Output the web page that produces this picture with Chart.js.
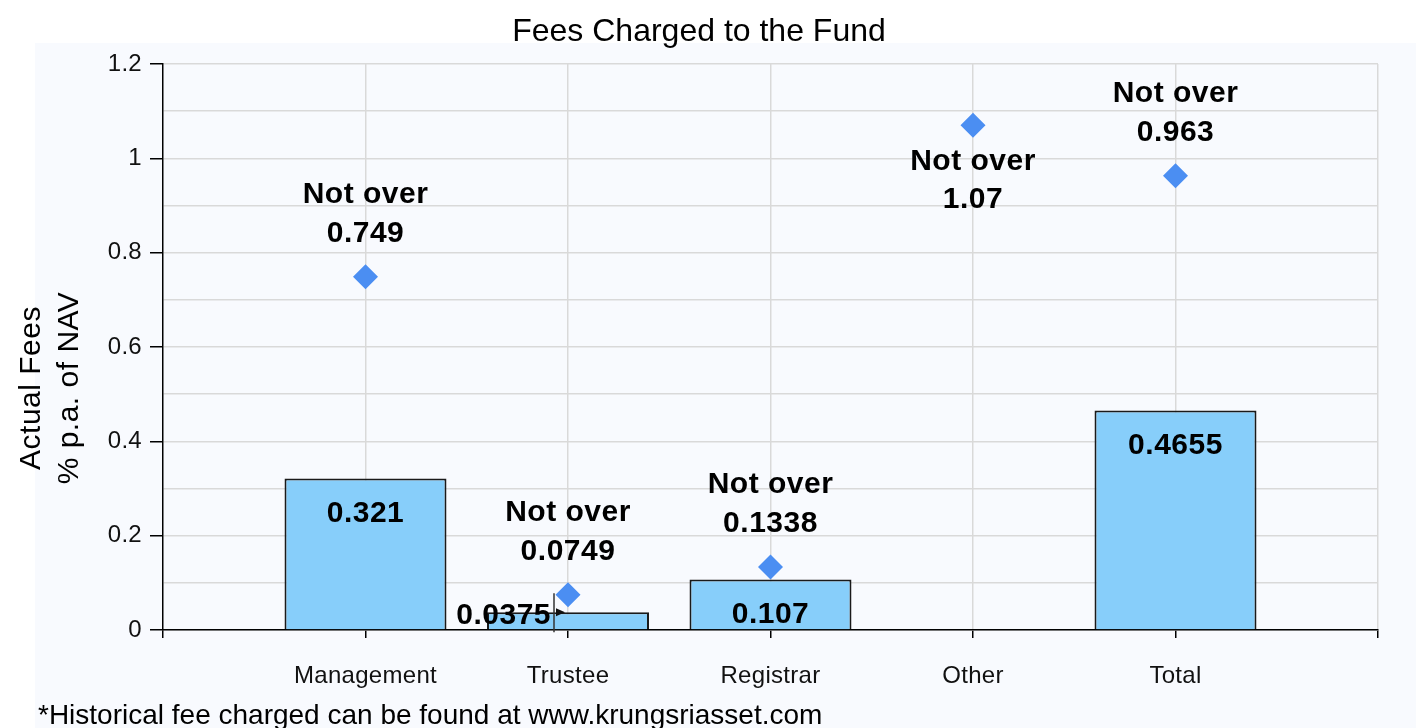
<!DOCTYPE html>
<html>
<head>
<meta charset="utf-8">
<script src="https://cdn.jsdelivr.net/npm/chart.js"></script>
<style>
  html, body { margin: 0; padding: 0; background: #ffffff; }
  canvas { display: block; }
</style>
</head>
<body>
<canvas id="c" width="1416" height="728"></canvas>
<script>
// ---- data ----
const categories = ['Management', 'Trustee', 'Registrar', 'Other', 'Total'];
const actualFees = [0.321, 0.0375, 0.107, null, 0.4655];
const maxFees = [0.749, 0.0749, 0.1338, 1.07, 0.963];
const maxPrefix = 'Not over';
const chartTitle = 'Fees Charged to the Fund';
const yTitleLines = ['Actual Fees', '% p.a. of NAV'];
const footnote = '*Historical fee charged can be found at www.krungsriasset.com';
const yMin = 0, yMax = 1.2, yStep = 0.1;

// padded category axis (empty slots at both ends)
const axisLabels = [''].concat(categories, ['']);
const barData = [null].concat(actualFees, [null]);
const pointData = [null].concat(maxFees, [null]);

const FONT = '"Liberation Sans", Arial, Helvetica, sans-serif';

const decorPlugin = {
  id: 'decor',
  beforeDraw(chart) {
    const ctx = chart.ctx;
    ctx.save();
    ctx.fillStyle = '#ffffff';
    ctx.fillRect(0, 0, chart.width, chart.height);
    ctx.fillStyle = '#f8fafe';
    ctx.fillRect(35, 43, chart.width - 35, chart.height - 43);
    ctx.restore();
    ctx.letterSpacing = '0.3px';
  },
  afterDatasetsDraw(chart) {
    const ctx = chart.ctx;
    const area = chart.chartArea;
    const barMeta = chart.getDatasetMeta(0);
    const ptMeta = chart.getDatasetMeta(1);
    ctx.save();
    ctx.font = 'bold 30px ' + FONT;
    ctx.letterSpacing = '0.5px';
    ctx.fillStyle = '#000';
    ctx.textBaseline = 'middle';

    barMeta.data.forEach((el, i) => {
      const v = barData[i];
      if (v == null) return;
      const p = el.getProps(['x', 'y', 'base'], true);
      const h = p.base - p.y;
      if (h > 45) {
        ctx.textAlign = 'center';
        ctx.fillText(String(v), p.x, p.y + 35);
      } else {
        const lx = p.x - 14;
        ctx.textAlign = 'right';
        ctx.fillText(String(v), lx - 3, p.y + 3);
        ctx.strokeStyle = '#333';
        ctx.lineWidth = 1.5;
        ctx.beginPath();
        ctx.moveTo(lx, p.y - 19);
        ctx.lineTo(lx, p.base + 3);
        ctx.stroke();
        ctx.fillStyle = '#111';
        ctx.beginPath();
        ctx.moveTo(lx + 2, p.y - 4);
        ctx.lineTo(lx + 11, p.y);
        ctx.lineTo(lx + 2, p.y + 4);
        ctx.closePath();
        ctx.fill();
        ctx.fillStyle = '#000';
      }
    });

    ctx.textAlign = 'center';
    ptMeta.data.forEach((el, i) => {
      const v = pointData[i];
      if (v == null) return;
      const p = el.getProps(['x', 'y'], true);
      if (p.y - 98 >= area.top) {
        ctx.fillText(maxPrefix, p.x, p.y - 82);
        ctx.fillText(String(v), p.x, p.y - 43);
      } else {
        ctx.fillText(maxPrefix, p.x, p.y + 36);
        ctx.fillText(String(v), p.x, p.y + 74);
      }
    });
    ctx.restore();
  },
  afterDraw(chart) {
    const ctx = chart.ctx;
    ctx.save();
    ctx.fillStyle = '#000';
    ctx.textBaseline = 'middle';
    // title
    ctx.font = '32px ' + FONT;
    ctx.letterSpacing = '0px';
    ctx.textAlign = 'center';
    ctx.fillText(chartTitle, 699, 32);
    // y axis title
    ctx.font = '30px ' + FONT;
    ctx.letterSpacing = '0.5px';
    ctx.save();
    ctx.translate(51, 388);
    ctx.rotate(-Math.PI / 2);
    ctx.fillText(yTitleLines[0], 0, -19);
    ctx.fillText(yTitleLines[1], 0, 19);
    ctx.restore();
    // footnote
    ctx.font = '28px ' + FONT;
    ctx.letterSpacing = '0px';
    ctx.textAlign = 'left';
    ctx.fillText(footnote, 38, 716);
    ctx.restore();
  }
};

const isMajor = (v) => Math.round(v * 10) % 2 === 0;

new Chart(document.getElementById('c'), {
  data: {
    labels: axisLabels,
    datasets: [
      {
        type: 'bar',
        data: barData,
        backgroundColor: '#87cefa',
        borderColor: '#1a1a1a',
        borderWidth: 2,
        barPercentage: 0.8,
        categoryPercentage: 1.0,
        order: 2
      },
      {
        type: 'line',
        data: pointData,
        showLine: false,
        pointStyle: 'rectRot',
        pointRadius: 12.5,
        pointBackgroundColor: '#4b8ef2',
        pointBorderWidth: 0,
        pointBorderColor: '#4b8ef2',
        order: 1
      }
    ]
  },
  options: {
    responsive: false,
    animation: false,
    events: [],
    layout: { padding: { left: 0, top: 64, right: 38, bottom: 0 } },
    plugins: {
      legend: { display: false },
      title: { display: false },
      tooltip: { enabled: false }
    },
    scales: {
      x: {
        type: 'category',
        offset: false,
        grid: {
          offset: false,
          color: (c) => (c.index === 0 ? 'rgba(0,0,0,0)' : '#d9d9d9'),
          lineWidth: 1.5,
          drawTicks: true,
          tickLength: 8,
          tickColor: '#000',
          tickWidth: 1.5
        },
        border: { display: true, color: '#000', width: 1.5 },
        ticks: {
          color: '#111',
          font: { family: FONT, size: 24 },
          padding: 24,
          maxRotation: 0,
          autoSkip: false
        },
        afterFit(scale) { scale.height = 98; }
      },
      y: {
        type: 'linear',
        min: yMin,
        max: yMax,
        grid: {
          color: '#d9d9d9',
          lineWidth: 1.5,
          drawTicks: true,
          tickLength: 13,
          tickColor: (c) => (c.tick && isMajor(c.tick.value) ? '#000' : 'rgba(0,0,0,0)'),
          tickWidth: 1.5
        },
        border: { display: true, color: '#000', width: 1.5 },
        ticks: {
          stepSize: yStep,
          color: '#111',
          font: { family: FONT, size: 24 },
          padding: 8,
          autoSkip: false,
          callback: (v) => {
            const k = Math.round(v * 10);
            return k % 2 === 0 ? String(k / 10) : '';
          }
        },
        afterFit(scale) { scale.width = 163; }
      }
    }
  },
  plugins: [decorPlugin]
});
</script>
</body>
</html>
